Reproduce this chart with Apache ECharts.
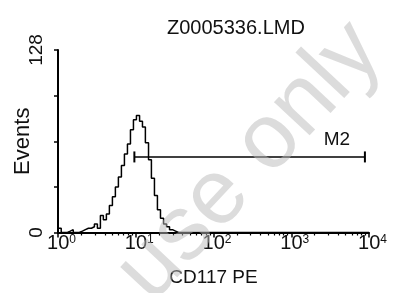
<!DOCTYPE html>
<html>
<head>
<meta charset="utf-8">
<script src="https://cdn.jsdelivr.net/npm/echarts@6/dist/echarts.min.js"></script>
<style>
html, body { margin: 0; padding: 0; background: #fff; }
#chart { width: 394px; height: 293px; }
</style>
</head>
<body>
<div id="chart"></div>
<script>
// histogram: channel start (CD117 PE intensity) and event count per channel
var fluor = [1.00, 1.10, 1.21, 1.32, 1.44, 1.57, 1.72, 1.88, 2.06, 2.25, 2.46, 2.69, 2.94, 3.21,
    3.51, 3.83, 4.19, 4.58, 5.01, 5.47, 5.98, 6.54, 7.15, 7.82, 8.55, 9.34, 10.2, 11.2, 12.2,
    13.3, 14.6, 15.9, 17.4, 19.0, 20.8, 22.8, 24.9, 27.2, 29.7, 32.5, 35.5, 10000];
var events = [3, 0, 0, 1, 2, 0, 0, 1, 2, 3, 3, 4, 6, 3,
    12, 9, 13, 19, 25, 32, 39, 47, 55, 62, 72, 79, 82, 78, 74,
    63, 51, 38, 26, 16, 10, 6, 4, 2, 1, 0, 0, 0];
var decades = [1, 10, 100, 1000, 10000];
var minorTicks = [2, 3, 4, 5, 6, 7, 8, 9, 20, 30, 40, 50, 60, 70, 80, 90,
    200, 300, 400, 500, 600, 700, 800, 900, 2000, 3000, 4000, 5000, 6000, 7000, 8000, 9000];
var yTicks = [0, 32, 64, 96, 128];
var m2Gate = [9.6, 8860];
var m2Level = 53;

var font = 'Liberation Sans';
var myChart = echarts.init(document.getElementById('chart'));

var histData = fluor.map(function (x, i) { return [x, events[i]]; });
var gateData = m2Gate.map(function (x) { return [x, m2Level]; });

option = {
    animation: false,
    title: {
        text: 'Z0005336.LMD',
        left: 162,
        top: 13,
        textStyle: { fontFamily: font, fontSize: 20, fontWeight: 'normal', color: '#111' }
    },
    grid: { left: 58, right: 25, top: 50, bottom: 60.5 },
    xAxis: [
        {
            type: 'log',
            logBase: 10,
            min: 1,
            max: 10000,
            name: 'CD117 PE',
            nameLocation: 'middle',
            nameGap: 36,
            nameMoveOverlap: false,
            nameTextStyle: { fontFamily: font, fontSize: 19, color: '#111' },
            axisLine: { onZero: false, lineStyle: { color: '#000', width: 2 } },
            axisTick: { customValues: decades, length: 5, lineStyle: { color: '#000', width: 1.5 } },
            splitLine: { show: false },
            axisLabel: {
                customValues: decades,
                margin: 1,
                formatter: function (v) {
                    return '{p| }{b|10}{s|' + Math.round(Math.log10(v)) + '}';
                },
                rich: {
                    p: { width: 7, fontSize: 12, verticalAlign: 'top', lineHeight: 12 },
                    b: { fontFamily: font, fontSize: 20, color: '#111', verticalAlign: 'top', lineHeight: 21 },
                    s: { fontFamily: font, fontSize: 12, color: '#111', verticalAlign: 'top', lineHeight: 12 }
                }
            }
        },
        {
            type: 'log',
            logBase: 10,
            min: 1,
            max: 10000,
            position: 'bottom',
            axisLine: { show: false },
            axisTick: { customValues: minorTicks, length: 3, lineStyle: { color: '#000', width: 1.2 } },
            axisLabel: { show: false },
            splitLine: { show: false }
        }
    ],
    yAxis: {
        type: 'value',
        min: 0,
        max: 128,
        interval: 32,
        name: 'Events',
        nameLocation: 'middle',
        nameRotate: 90,
        nameGap: 24,
        nameMoveOverlap: false,
        nameTextStyle: { fontFamily: font, fontSize: 22, color: '#111' },
        axisLine: { show: true, lineStyle: { color: '#000', width: 2 } },
        axisTick: { show: true, length: 4, lineStyle: { color: '#000', width: 1.5 } },
        splitLine: { show: false },
        axisLabel: {
            rotate: 90,
            margin: 12,
            fontFamily: font,
            fontSize: 19,
            color: '#111',
            formatter: function (v) {
                return (v === yTicks[0] || v === yTicks[yTicks.length - 1]) ? String(v) : '';
            }
        }
    },
    series: [
        {
            name: 'CD117 PE',
            type: 'line',
            step: 'end',
            showSymbol: false,
            data: histData,
            lineStyle: { color: '#000', width: 1.5 },
            z: 3
        },
        {
            name: 'M2',
            type: 'line',
            data: gateData,
            symbol: 'rect',
            symbolSize: [2, 11],
            itemStyle: { color: '#000' },
            lineStyle: { color: '#000', width: 1.5 },
            label: {
                show: true,
                position: 'top',
                distance: 2,
                offset: [-28, 0],
                fontFamily: font,
                fontSize: 19,
                color: '#111',
                formatter: function (p) { return p.dataIndex === 1 ? 'M2' : ''; }
            },
            z: 4
        }
    ],
    graphic: [
        {
            type: 'text',
            x: 250,
            y: 162,
            rotation: 0.82,
            z: 100,
            silent: true,
            style: {
                text: 'use only',
                align: 'center',
                verticalAlign: 'middle',
                fontFamily: font,
                fontSize: 92,
                fill: 'rgba(185,185,185,0.5)'
            }
        }
    ]
};

myChart.setOption(option);
</script>
</body>
</html>
